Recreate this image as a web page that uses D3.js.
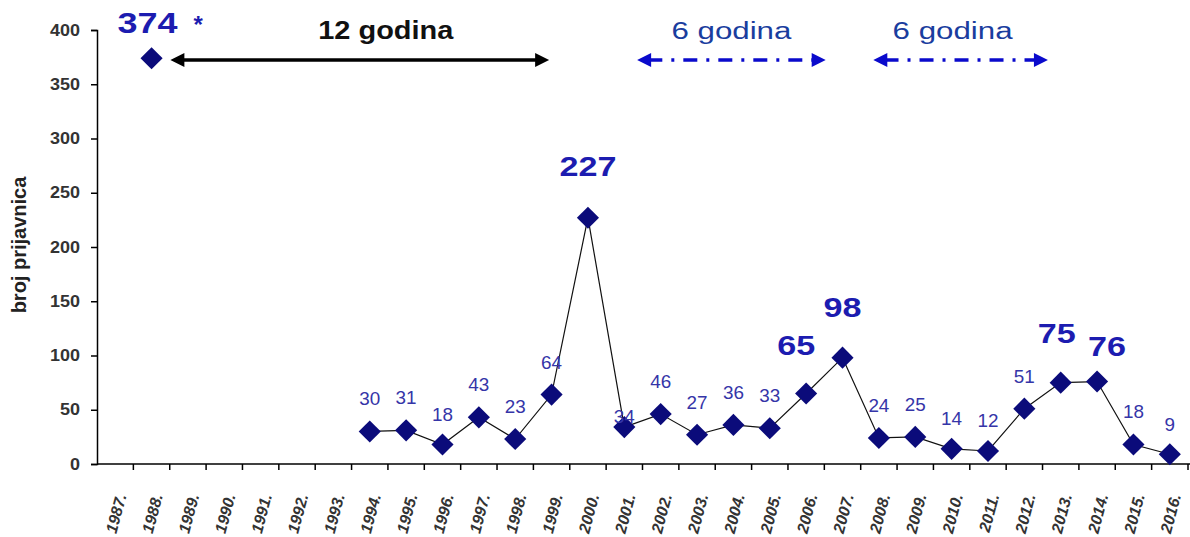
<!DOCTYPE html>
<html>
<head>
<meta charset="utf-8">
<script src="https://cdn.jsdelivr.net/npm/d3@7"></script>
<style>
  body { margin: 0; background: #fff; }
  text { font-family: Arial, "Liberation Sans", sans-serif; }
</style>
</head>
<body>
<div id="chart"></div>
<script>
// years on the x axis
var years = ["1987.", "1988.", "1989.", "1990.", "1991.", "1992.", "1993.", "1994.", "1995.", "1996.",
  "1997.", "1998.", "1999.", "2000.", "2001.", "2002.", "2003.", "2004.", "2005.", "2006.",
  "2007.", "2008.", "2009.", "2010.", "2011.", "2012.", "2013.", "2014.", "2015.", "2016."];
// the isolated 1988 value
var outlierYear = "1988.";
var outlierValue = 374;
// the connected series, 1994 - 2016
var seriesYears = ["1994.", "1995.", "1996.", "1997.", "1998.", "1999.", "2000.", "2001.", "2002.", "2003.",
  "2004.", "2005.", "2006.", "2007.", "2008.", "2009.", "2010.", "2011.", "2012.", "2013.",
  "2014.", "2015.", "2016."];
var seriesValues = [30, 31, 18, 43, 23, 64, 227, 34, 46, 27, 36, 33, 65, 98, 24, 25, 14, 12, 51, 75, 76, 18, 9];
var bigLabels = ["2000.", "2006.", "2007.", "2013.", "2014."];
var yTicks = [0, 50, 100, 150, 200, 250, 300, 350, 400];
// period arrows
var periods = [
  {from: "1988.", to: "2000.", text: "12 godina", kind: "solid"},
  {from: "2001.", to: "2007.", text: "6 godina", kind: "dash"},
  {from: "2007.", to: "2013.", text: "6 godina", kind: "dash"}
];

var width = 1190, height = 537;
var margin = {top: 30, right: 2, bottom: 73, left: 97};

var svg = d3.select("#chart").append("svg")
    .attr("width", width)
    .attr("height", height);

var x = d3.scaleBand()
    .domain(years)
    .range([margin.left, width - margin.right]);

var y = d3.scaleLinear()
    .domain([0, 400])
    .range([height - margin.bottom, margin.top]);

var cx = function(yr) { return x(yr) + x.bandwidth() / 2; };

// y axis
var yAxis = svg.append("g")
    .attr("transform", "translate(" + margin.left + ",0)")
    .call(d3.axisLeft(y).tickValues(yTicks).tickSize(6).tickPadding(11));
yAxis.select(".domain").attr("stroke", "#000").attr("stroke-width", 1.5);
yAxis.selectAll(".tick line").attr("stroke", "#000").attr("stroke-width", 1.5);
yAxis.selectAll("text")
    .style("font-size", "16px")
    .style("font-weight", "bold")
    .attr("fill", "#333")
    .attr("lengthAdjust", "spacingAndGlyphs")
    .attr("textLength", function(d) { return String(d).length * 10; });

// x axis, ticks on band edges
var xAxis = svg.append("g")
    .attr("transform", "translate(0," + y(0) + ")");
xAxis.append("line")
    .attr("x1", margin.left).attr("x2", width)
    .attr("stroke", "#000").attr("stroke-width", 1.5);
xAxis.selectAll("line.tk")
    .data(years)
    .enter().append("line")
    .attr("class", "tk")
    .attr("x1", function(d) { return x(d) + x.bandwidth(); })
    .attr("x2", function(d) { return x(d) + x.bandwidth(); })
    .attr("y1", 0).attr("y2", 6)
    .attr("stroke", "#000").attr("stroke-width", 1.5);
xAxis.selectAll("text")
    .data(years)
    .enter().append("text")
    .attr("transform", function(d) { return "translate(" + (cx(d) + 6) + ",30) rotate(-75)"; })
    .attr("text-anchor", "end")
    .attr("dy", "0.35em")
    .style("font-size", "16px")
    .style("font-weight", "bold")
    .style("font-style", "italic")
    .attr("fill", "#333")
    .text(function(d) { return d; });

// y title
svg.append("text")
    .attr("transform", "translate(26,245) rotate(-90)")
    .attr("text-anchor", "middle")
    .style("font-size", "20px")
    .style("font-weight", "bold")
    .attr("fill", "#222")
    .text("broj prijavnica");

// line
var line = d3.line()
    .x(function(d) { return cx(d.year); })
    .y(function(d) { return y(d.value); });
var series = seriesYears.map(function(yr, i) { return {year: yr, value: seriesValues[i]}; });

svg.append("path")
    .datum(series)
    .attr("d", line)
    .attr("fill", "none")
    .attr("stroke", "#111")
    .attr("stroke-width", 1.2);

var diamond = d3.symbol().type(d3.symbolSquare).size(245);
var allPoints = [{year: outlierYear, value: outlierValue}].concat(series);

svg.selectAll("path.pt")
    .data(allPoints)
    .enter().append("path")
    .attr("class", "pt")
    .attr("d", diamond)
    .attr("transform", function(d) { return "translate(" + cx(d.year) + "," + y(d.value) + ") rotate(45)"; })
    .attr("fill", "#0b0b7a");

// value labels: small nudges so they sit like the original
var nudge = {
  "2001.": [0, 22], "2006.": [-10, -12], "2007.": [0, -15], "2013.": [-4, -14],
  "2014.": [10, 0], "2000.": [0, -16], "1996.": [0, 3], "2010.": [0, 2], "2011.": [0, 2], "2016.": [0, 3]
};
var isBig = function(d) { return bigLabels.indexOf(d.year) >= 0; };
svg.selectAll("text.val")
    .data(series)
    .enter().append("text")
    .attr("class", "val")
    .attr("x", function(d) { return cx(d.year) + (nudge[d.year] ? nudge[d.year][0] : 0); })
    .attr("y", function(d) { return y(d.value) - 26 + (nudge[d.year] ? nudge[d.year][1] : 0); })
    .attr("text-anchor", "middle")
    .style("font-size", function(d) { return isBig(d) ? "27px" : "19px"; })
    .style("font-weight", function(d) { return isBig(d) ? "bold" : "normal"; })
    .attr("fill", function(d) { return isBig(d) ? "#1c1cb0" : "#3535a8"; })
    .attr("lengthAdjust", "spacingAndGlyphs")
    .attr("textLength", function(d) { return String(d.value).length * (isBig(d) ? 19 : 10.5); })
    .text(function(d) { return d.value; });

// 374 *
svg.append("text")
    .attr("x", cx(outlierYear) - 34)
    .attr("y", y(outlierValue) - 25)
    .style("font-size", "29px")
    .style("font-weight", "bold")
    .attr("fill", "#1c1cb0")
    .attr("lengthAdjust", "spacingAndGlyphs")
    .attr("textLength", 60)
    .text(outlierValue);
svg.append("text")
    .attr("x", cx(outlierYear) + 42)
    .attr("y", y(outlierValue) - 25)
    .style("font-size", "24px")
    .style("font-weight", "bold")
    .attr("fill", "#1c1cb0")
    .text("*");

// arrows
var defs = svg.append("defs");
function marker(id, color) {
  defs.append("marker")
      .attr("id", id)
      .attr("viewBox", "0 0 10 10")
      .attr("refX", 2).attr("refY", 5)
      .attr("markerWidth", 5).attr("markerHeight", 4)
      .attr("orient", "auto-start-reverse")
      .attr("markerUnits", "strokeWidth")
      .append("path")
      .attr("d", "M0,0 L10,5 L0,10 Z")
      .attr("fill", color);
}
marker("headBlack", "#000");
marker("headBlue", "#0a0acc");

var arrowY = 60;
var insets = [[30, 50], [24, 28], [42, 24]];
var textShift = [26, 0, -8];
var textLen = [135, 120, 120];
periods.forEach(function(p, i) {
  var solid = p.kind === "solid";
  var x1 = cx(p.from) + insets[i][0];
  var x2 = cx(p.to) - insets[i][1];
  svg.append("line")
      .attr("x1", x1).attr("x2", x2)
      .attr("y1", arrowY).attr("y2", arrowY)
      .attr("stroke", solid ? "#000" : "#0a0acc")
      .attr("stroke-width", 3.5)
      .attr("stroke-dasharray", solid ? null : "14,9,3,9")
      .attr("marker-start", solid ? "url(#headBlack)" : "url(#headBlue)")
      .attr("marker-end", solid ? "url(#headBlack)" : "url(#headBlue)");
  svg.append("text")
      .attr("x", (x1 + x2) / 2 + textShift[i])
      .attr("y", 39)
      .attr("text-anchor", "middle")
      .style("font-size", solid ? "25px" : "23px")
      .style("font-weight", solid ? "bold" : "normal")
      .attr("fill", solid ? "#111" : "#1a3d9e")
      .attr("lengthAdjust", "spacingAndGlyphs")
      .attr("textLength", textLen[i])
      .text(p.text);
});
</script>
</body>
</html>
